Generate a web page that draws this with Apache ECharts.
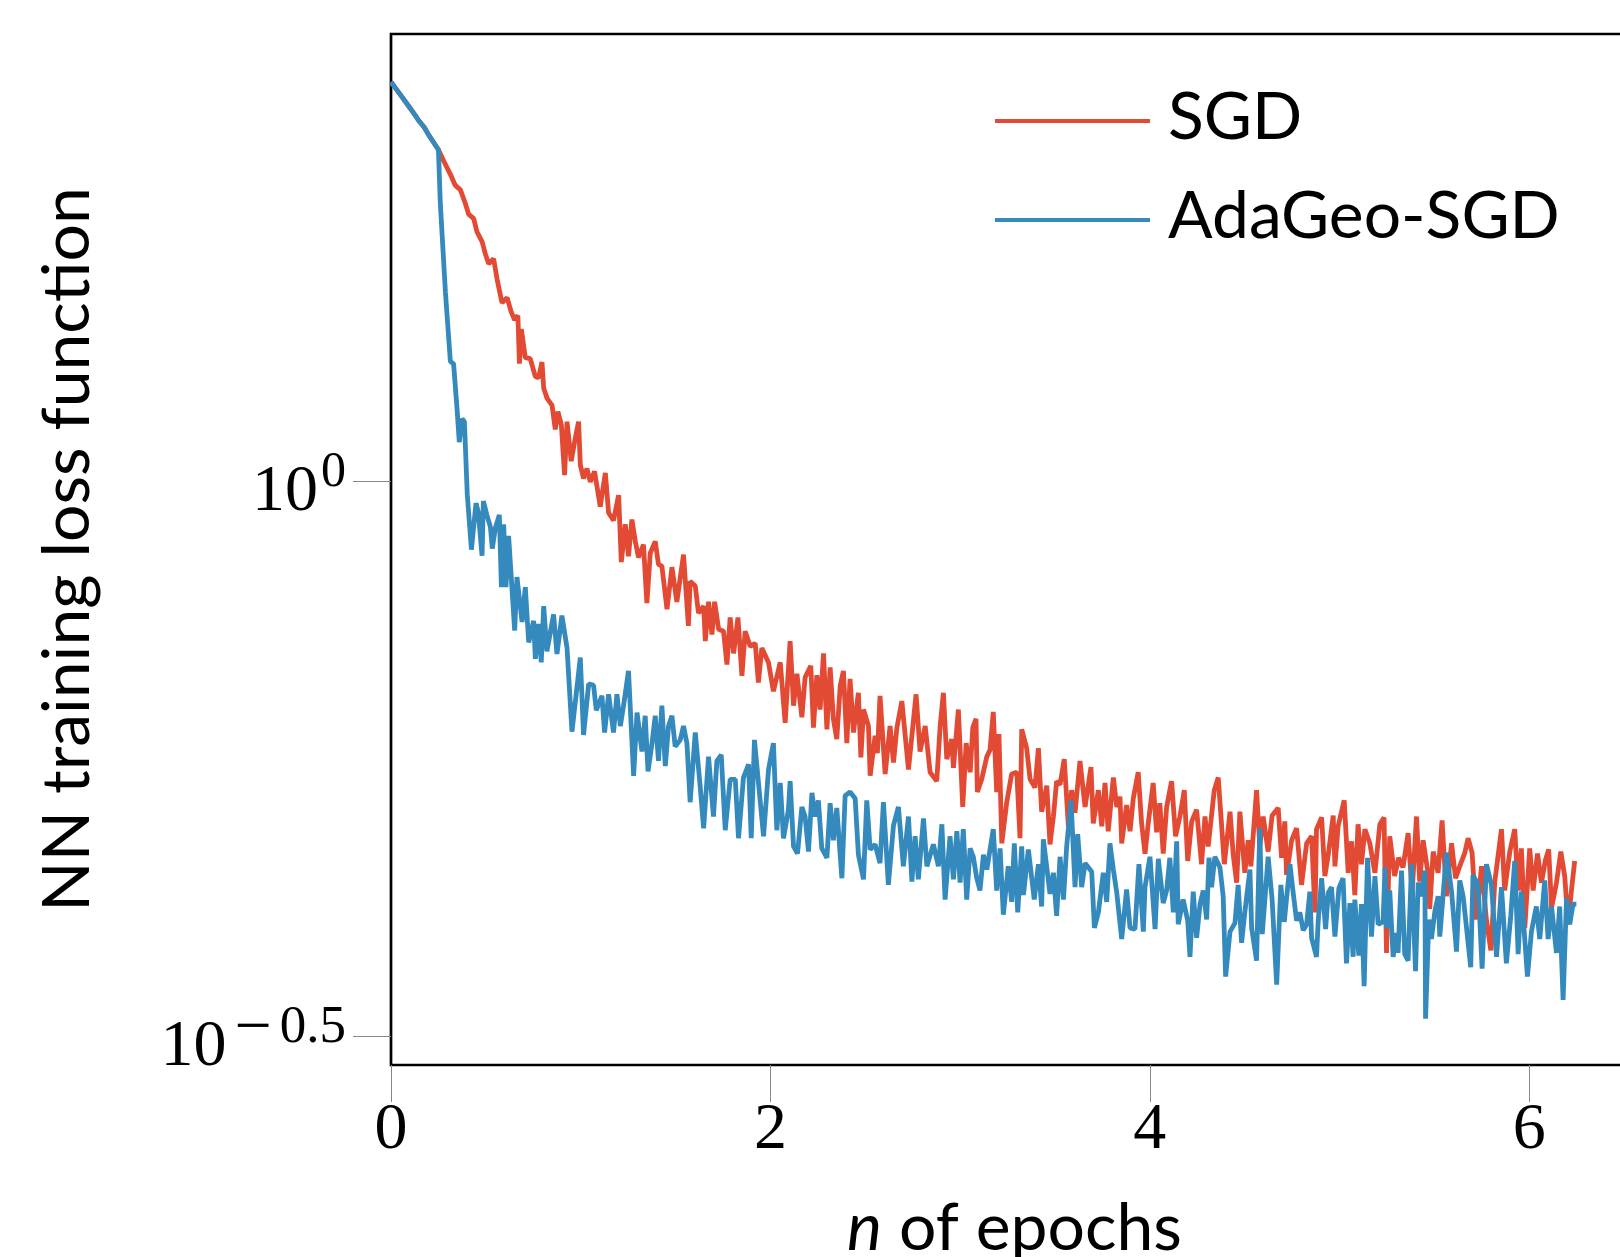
<!DOCTYPE html>
<html><head><meta charset="utf-8">
<script src="https://cdn.jsdelivr.net/npm/echarts@6/dist/echarts.min.js"></script>
<style>html,body{margin:0;padding:0;background:#fff;}#c{width:1620px;height:1257px;}</style>
</head><body><div id="c"></div>
<script>
// [epoch, loss]
const sgdPoints = [[0,2.29],[0.025,2.26],[0.05,2.23],[0.075,2.2],[0.1,2.17],[0.125,2.14],[0.15,2.11],[0.175,2.085],[0.2,2.05],[0.225,2.02],[0.25,1.99],
[0.278,1.944],[0.313,1.891],[0.339,1.848],[0.366,1.831],[0.392,1.78],[0.409,1.741],[0.436,1.725],[0.454,1.677],[0.48,1.645],[0.497,1.604],[0.515,1.571],[0.541,1.587],[0.559,1.522],[0.585,1.449],[0.612,1.464],[0.634,1.421],[0.652,1.398],[0.669,1.411],[0.677,1.277],[0.687,1.372],[0.708,1.293],[0.734,1.29],[0.761,1.243],[0.778,1.24],[0.796,1.281],[0.805,1.213],[0.823,1.188],[0.849,1.171],[0.866,1.114],[0.88,1.156],[0.898,1.125],[0.915,1.013],[0.928,1.132],[0.95,1.043],[0.972,1.095],[0.989,1.132],[0.998,1.035],[1.015,1.006],[1.033,1.027],[1.051,0.999],[1.073,1.021],
[1.103,0.949],[1.13,1.018],[1.147,0.937],[1.173,0.922],[1.2,0.972],[1.214,0.846],[1.235,0.915],[1.252,0.856],[1.27,0.924],[1.288,0.883],[1.305,0.854],[1.331,0.877],[1.349,0.777],[1.367,0.862],[1.393,0.883],[1.41,0.842],[1.428,0.839],[1.455,0.767],[1.481,0.837],[1.507,0.779],[1.542,0.859],[1.568,0.741],[1.577,0.813],[1.604,0.805],[1.621,0.761],[1.648,0.772],[1.657,0.718],[1.674,0.779],[1.692,0.728],[1.706,0.779],[1.727,0.736],[1.753,0.733],[1.771,0.684],[1.788,0.754],[1.806,0.7],[1.829,0.754],[1.85,0.668],[1.867,0.733],[1.894,0.71],[1.92,0.715],[1.937,0.659],[1.955,0.708],[1.99,0.687],[2.016,0.647],[2.052,0.687],[2.078,0.606],[2.104,0.718],
[2.122,0.628],[2.14,0.671],[2.166,0.613],[2.183,0.666],[2.213,0.682],[2.227,0.6],[2.245,0.669],[2.262,0.623],[2.28,0.7],[2.298,0.598],[2.315,0.68],[2.332,0.611],[2.35,0.586],[2.368,0.654],[2.385,0.675],[2.403,0.581],[2.42,0.664],[2.438,0.594],[2.464,0.645],[2.477,0.564],[2.491,0.623],[2.517,0.602],[2.526,0.543],[2.552,0.59],[2.564,0.569],[2.578,0.641],[2.605,0.545],[2.631,0.602],[2.649,0.558],[2.667,0.6],[2.693,0.634],[2.728,0.55],[2.746,0.59],[2.768,0.643],[2.789,0.571],[2.816,0.602],[2.842,0.547],[2.877,0.537],[2.895,0.602],[2.912,0.645],[2.93,0.562],[2.956,0.586],[2.965,0.552],[2.991,0.623],[3.014,0.509],[3.032,0.581],[3.053,0.547],[3.067,0.6],[3.084,0.611],[3.091,0.525],[3.114,0.539],[3.141,0.565],[3.158,0.573],
[3.175,0.62],[3.193,0.525],[3.205,0.592],[3.22,0.472],[3.246,0.514],[3.272,0.545],[3.299,0.547],[3.316,0.477],[3.325,0.598],[3.351,0.575],[3.369,0.539],[3.395,0.53],[3.413,0.575],[3.43,0.504],[3.457,0.532],[3.474,0.471],[3.492,0.499],[3.509,0.537],[3.527,0.533],[3.549,0.562],[3.571,0.489],[3.588,0.527],[3.606,0.503],[3.632,0.56],[3.659,0.509],[3.69,0.553],[3.702,0.492],[3.729,0.527],[3.747,0.489],[3.764,0.535],[3.781,0.484],[3.808,0.541],[3.826,0.509],[3.843,0.52],[3.852,0.472],[3.878,0.511],[3.896,0.484],[3.913,0.518],[3.939,0.547],[3.957,0.492],[3.975,0.462],[3.992,0.492],[4.018,0.535],[4.036,0.483],[4.053,0.513],[4.071,0.462],[4.089,0.509],[4.115,0.537],[4.136,0.479],[4.159,0.499],[4.182,0.527],[4.2,0.455],
[4.221,0.494],[4.247,0.506],[4.273,0.452],[4.291,0.499],[4.308,0.469],[4.34,0.527],[4.361,0.541],[4.393,0.452],[4.423,0.504],[4.44,0.461],[4.458,0.435],[4.475,0.504],[4.501,0.444],[4.519,0.475],[4.533,0.45],[4.563,0.527],[4.58,0.469],[4.598,0.499],[4.624,0.464],[4.645,0.5],[4.677,0.508],[4.695,0.458],[4.712,0.494],[4.721,0.442],[4.748,0.475],[4.774,0.487],[4.8,0.433],[4.827,0.472],[4.853,0.479],[4.871,0.409],[4.879,0.486],[4.906,0.498],[4.923,0.441],[4.941,0.461],[4.967,0.5],[4.976,0.45],[4.993,0.489],[5.025,0.516],[5.046,0.444],[5.064,0.474],[5.081,0.424],[5.098,0.491],[5.116,0.452],[5.134,0.486],[5.16,0.472],[5.187,0.444],[5.213,0.491],[5.235,0.498],[5.248,0.376],[5.265,0.479],
[5.291,0.441],[5.312,0.458],[5.335,0.449],[5.362,0.482],[5.383,0.425],[5.406,0.499],[5.423,0.436],[5.441,0.475],[5.464,0.447],[5.476,0.412],[5.494,0.464],[5.52,0.444],[5.541,0.495],[5.564,0.423],[5.591,0.472],[5.612,0.439],[5.634,0.45],[5.661,0.463],[5.678,0.477],[5.699,0.463],[5.722,0.403],[5.749,0.45],[5.775,0.402],[5.798,0.378],[5.819,0.436],[5.854,0.486],[5.871,0.428],[5.898,0.464],[5.924,0.486],[5.942,0.428],[5.959,0.467],[5.977,0.396],[6.003,0.467],[6.021,0.428],[6.044,0.462],[6.065,0.435],[6.086,0.456],[6.103,0.466],[6.118,0.413],[6.144,0.435],[6.167,0.464],[6.188,0.44],[6.205,0.399],[6.223,0.428],[6.24,0.455]];

const adaPoints = [[0,2.29],[0.025,2.26],[0.05,2.23],[0.075,2.2],[0.1,2.17],[0.125,2.14],[0.15,2.11],[0.175,2.085],[0.2,2.05],[0.225,2.02],[0.25,1.99],
[0.26,1.78],[0.287,1.48],[0.313,1.283],[0.33,1.276],[0.348,1.164],[0.36,1.085],[0.375,1.139],[0.387,1.132],[0.402,0.974],[0.424,0.868],[0.448,0.956],[0.46,0.939],[0.48,0.857],[0.487,0.96],[0.506,0.932],[0.524,0.91],[0.534,0.87],[0.55,0.908],[0.571,0.933],[0.582,0.803],[0.594,0.915],[0.606,0.803],[0.62,0.893],[0.652,0.734],[0.664,0.82],[0.691,0.747],[0.708,0.803],[0.726,0.716],[0.752,0.749],[0.761,0.692],[0.778,0.744],[0.792,0.687],[0.805,0.772],[0.822,0.703],[0.857,0.759],[0.875,0.699],[0.901,0.757],[0.928,0.708],[0.954,0.595],[0.998,0.694],[1.015,0.591],[1.042,0.657],[1.068,0.655],[1.082,0.622],
[1.112,0.641],[1.126,0.594],[1.147,0.643],[1.173,0.594],[1.191,0.643],[1.209,0.602],[1.226,0.628],[1.252,0.675],[1.279,0.543],[1.297,0.619],[1.323,0.571],[1.34,0.615],[1.355,0.548],[1.376,0.581],[1.393,0.615],[1.41,0.56],[1.428,0.628],[1.446,0.554],[1.463,0.602],[1.481,0.615],[1.498,0.577],[1.525,0.585],[1.542,0.602],[1.56,0.581],[1.577,0.514],[1.604,0.594],[1.63,0.531],[1.648,0.487],[1.674,0.565],[1.7,0.499],[1.718,0.56],[1.741,0.567],[1.762,0.485],[1.788,0.539],[1.815,0.539],[1.832,0.477],[1.858,0.541],[1.885,0.556],[1.899,0.477],[1.916,0.585],[1.946,0.516],[1.964,0.479],[1.99,0.55],[2.016,0.581],[2.034,0.485],[2.052,0.535],[2.069,0.477],[2.095,0.506],
[2.104,0.537],[2.122,0.469],[2.143,0.462],[2.166,0.509],[2.183,0.499],[2.201,0.464],[2.219,0.524],[2.236,0.499],[2.253,0.516],[2.271,0.467],[2.298,0.458],[2.315,0.513],[2.332,0.475],[2.35,0.508],[2.377,0.439],[2.394,0.521],[2.42,0.525],[2.447,0.518],[2.464,0.461],[2.491,0.438],[2.508,0.516],[2.526,0.466],[2.552,0.471],[2.578,0.453],[2.596,0.514],[2.622,0.433],[2.649,0.49],[2.675,0.509],[2.701,0.45],[2.728,0.499],[2.746,0.436],[2.763,0.479],[2.78,0.438],[2.807,0.497],[2.825,0.45],[2.859,0.471],[2.886,0.45],[2.904,0.491],[2.921,0.42],[2.947,0.479],[2.965,0.438],[2.983,0.484],[3.0,0.435],[3.017,0.486],[3.035,0.42],[3.053,0.467],[3.07,0.459],[3.088,0.439],[3.105,0.428],[3.123,0.461],[3.141,0.447],
[3.175,0.486],[3.193,0.428],[3.211,0.467],[3.228,0.407],[3.254,0.45],[3.272,0.418],[3.286,0.472],[3.304,0.409],[3.325,0.469],[3.334,0.424],[3.36,0.466],[3.391,0.42],[3.413,0.452],[3.43,0.414],[3.439,0.476],[3.474,0.425],[3.492,0.444],[3.509,0.406],[3.527,0.459],[3.545,0.42],[3.562,0.469],[3.585,0.516],[3.606,0.431],[3.62,0.481],[3.641,0.431],[3.659,0.453],[3.694,0.445],[3.708,0.396],[3.729,0.409],[3.755,0.444],[3.773,0.418],[3.79,0.472],[3.808,0.447],[3.826,0.426],[3.852,0.387],[3.878,0.429],[3.896,0.396],[3.922,0.395],[3.943,0.452],[3.966,0.393],[3.975,0.431],[4.001,0.459],[4.028,0.395],[4.045,0.457],[4.071,0.417],[4.089,0.428],[4.106,0.458],[4.124,0.409],[4.142,0.474],[4.15,0.399],[4.176,0.42],
[4.2,0.402],[4.212,0.373],[4.229,0.427],[4.247,0.388],[4.265,0.416],[4.282,0.428],[4.3,0.403],[4.312,0.458],[4.326,0.431],[4.343,0.459],[4.37,0.449],[4.387,0.423],[4.4,0.358],[4.423,0.393],[4.449,0.4],[4.466,0.433],[4.484,0.384],[4.501,0.409],[4.528,0.447],[4.537,0.396],[4.563,0.37],[4.58,0.487],[4.593,0.391],[4.624,0.459],[4.645,0.42],[4.669,0.352],[4.691,0.433],[4.709,0.401],[4.739,0.452],[4.756,0.426],[4.774,0.402],[4.791,0.409],[4.809,0.394],[4.827,0.399],[4.844,0.427],[4.853,0.388],[4.879,0.373],[4.888,0.402],[4.906,0.439],[4.927,0.395],[4.941,0.426],[4.958,0.431],[4.976,0.389],[4.997,0.43],[5.019,0.439],[5.037,0.368],[5.055,0.417],[5.072,0.373],[5.081,0.42],[5.102,0.374],[5.116,0.416],[5.13,0.351],[5.148,0.458],[5.169,0.389],[5.187,0.441],[5.204,0.399],[5.23,0.401],[5.24,0.449],
[5.248,0.396],[5.265,0.428],[5.283,0.373],[5.301,0.392],[5.309,0.376],[5.327,0.446],[5.344,0.375],[5.362,0.37],[5.38,0.452],[5.401,0.362],[5.415,0.435],[5.433,0.423],[5.45,0.446],[5.454,0.328],[5.471,0.403],[5.485,0.387],[5.503,0.41],[5.52,0.423],[5.529,0.389],[5.546,0.423],[5.564,0.463],[5.591,0.427],[5.617,0.377],[5.634,0.437],[5.652,0.423],[5.692,0.365],[5.704,0.442],[5.731,0.433],[5.752,0.364],[5.775,0.452],[5.801,0.433],[5.828,0.373],[5.854,0.431],[5.88,0.368],[5.903,0.406],[5.924,0.455],[5.942,0.375],[5.959,0.427],[5.991,0.358],[6.012,0.393],[6.038,0.414],[6.056,0.387],[6.082,0.437],[6.1,0.387],[6.118,0.414],[6.144,0.376],[6.161,0.414],[6.179,0.341],[6.197,0.421],[6.214,0.399],[6.231,0.416],[6.249,0.416]];

const seriesNames = ['SGD', 'AdaGeo-SGD'];
const seriesColors = ['#E24A33', '#348ABD'];
const xRange = [0, 6.5];
const xTickStep = 2;
const yRange = [0.298, 2.53];
const yTickValues = [Math.pow(10, -0.5), 1];
const yTickExponents = ['-0.5', '0'];
const xTitle = 'n of epochs';
const yTitle = 'NN training loss function';

const chart = echarts.init(document.getElementById('c'));
const serifFont = 'Liberation Serif';
const sansFont = 'Lato';

function yLabel(v) {
  let best = 0, bd = Infinity;
  yTickValues.forEach((t, i) => { const d = Math.abs(Math.log10(t) - Math.log10(v)); if (d < bd) { bd = d; best = i; } });
  const ex = yTickExponents[best];
  if (ex.charAt(0) === '-') return '{b|10}{m|\u2212}{s|' + ex.slice(1) + '}';
  return '{b|10}{s0|' + ex + '}';
}

chart.setOption({
  animation: false,
  grid: { left: 391, top: 34, right: -4, bottom: 192, show: true, borderColor: '#000', borderWidth: 2.7,
    backgroundColor: 'transparent', outerBoundsMode: 'none', containLabel: false },
  legend: {
    orient: 'vertical', left: 995, top: 85, padding: 0, itemWidth: 155, itemHeight: 4, itemGap: 33, icon: 'rect',
    data: seriesNames,
    formatter: function (name) { return '{t|' + name + '}'; },
    textStyle: { fontFamily: sansFont, fontSize: 66, color: '#000',
      rich: { t: { fontFamily: sansFont, fontSize: 66, color: '#000', lineHeight: 72, verticalAlign: 'top', padding: [0, 0, 0, 13] } } }
  },
  xAxis: {
    type: 'value', min: xRange[0], max: xRange[1], interval: xTickStep,
    splitLine: { show: false },
    axisLine: { show: false },
    axisTick: { show: true, length: 37, lineStyle: { color: '#888', width: 1 } },
    axisLabel: { margin: 33, fontFamily: serifFont, fontSize: 66, color: '#000', showMaxLabel: false },
    name: '{i|n} ' + xTitle.slice(2), nameLocation: 'middle', nameGap: 131,
    nameTextStyle: { fontFamily: sansFont, fontSize: 66, color: '#000', padding: [0, 0, 0, 14],
      rich: { i: { fontFamily: sansFont, fontSize: 66, fontStyle: 'italic', color: '#000' } } }
  },
  yAxis: {
    type: 'log', logBase: 10, min: yRange[0], max: yRange[1],
    splitLine: { show: false }, minorTick: { show: false },
    axisLine: { show: false },
    axisTick: { show: true, length: 38, lineStyle: { color: '#888', width: 1 }, customValues: yTickValues },
    axisLabel: {
      margin: 45, customValues: yTickValues, formatter: yLabel,
      rich: {
        b: { fontFamily: serifFont, fontSize: 66, color: '#000', lineHeight: 88, verticalAlign: 'bottom' },
        s0: { fontFamily: serifFont, fontSize: 50, color: '#000', lineHeight: 60, verticalAlign: 'top', padding: [10, 0, 0, 3] },
        s: { fontFamily: serifFont, fontSize: 53, color: '#000', lineHeight: 60, verticalAlign: 'top', padding: [9, 0, 0, 8] },
        m: { fontFamily: serifFont, fontSize: 66, color: '#000', lineHeight: 60, verticalAlign: 'top', padding: [4, 0, 0, 8] }
      }
    },
    name: yTitle, nameLocation: 'middle', nameGap: 290,
    nameTextStyle: { fontFamily: sansFont, fontSize: 66, color: '#000' }
  },
  series: [
    { name: seriesNames[0], type: 'line', data: sgdPoints, showSymbol: false, symbol: 'none',
      lineStyle: { color: seriesColors[0], width: 4.8 }, itemStyle: { color: seriesColors[0] } },
    { name: seriesNames[1], type: 'line', data: adaPoints, showSymbol: false, symbol: 'none',
      lineStyle: { color: seriesColors[1], width: 4.8 }, itemStyle: { color: seriesColors[1] } }
  ]
});
</script></body></html>
